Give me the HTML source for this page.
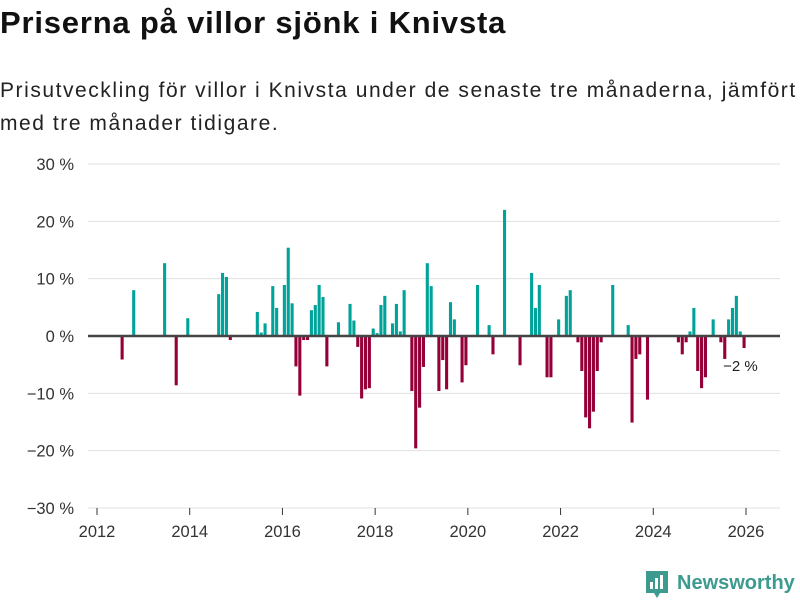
<!DOCTYPE html>
<html><head><meta charset="utf-8"><style>
body{margin:0;width:800px;height:600px;background:#fff;font-family:"Liberation Sans",sans-serif;color:#111;overflow:hidden;position:relative}
h1{position:absolute;left:0;top:5px;margin:0;font-size:31px;font-weight:bold;letter-spacing:0.8px;white-space:nowrap}
p{position:absolute;left:0;top:74px;margin:0;font-size:21px;line-height:33px;width:800px;color:#222;letter-spacing:1.55px;white-space:nowrap}
svg{position:absolute;left:0;top:0}
</style></head><body>
<h1>Priserna på villor sjönk i Knivsta</h1>
<p>Prisutveckling för villor i Knivsta under de senaste tre månaderna, jämfört<br>med tre månader tidigare.</p>
<svg id="chart" width="800" height="600"></svg>
<script>
// month index counted from Jan 2012
const months=[6,9,17,20,23,31,32,33,34,41,42,43,45,46,48,49,50,51,52,53,54,55,56,57,58,59,62,65,66,67,68,69,70,71,72,73,74,76,77,78,79,81,82,83,84,85,86,88,89,90,91,92,94,95,98,101,102,105,109,112,113,114,116,117,119,121,122,124,125,126,127,128,129,130,133,137,138,139,140,142,150,151,152,153,154,155,156,157,159,161,162,163,164,165,166,167];
const values=[-4.1,8.0,12.7,-8.6,3.1,7.3,11.0,10.3,-0.7,4.2,0.6,2.2,8.7,4.9,8.9,15.4,5.7,-5.3,-10.4,-0.7,-0.7,4.5,5.4,8.9,6.8,-5.3,2.4,5.6,2.7,-1.9,-10.9,-9.3,-9.1,1.3,0.5,5.4,7.0,2.2,5.6,0.8,8.0,-9.6,-19.6,-12.5,-5.4,12.7,8.7,-9.6,-4.2,-9.3,5.9,2.9,-8.1,-5.1,8.9,1.9,-3.2,22.0,-5.1,11.0,4.9,8.9,-7.2,-7.2,2.9,7.0,8.0,-1.1,-6.1,-14.2,-16.1,-13.2,-6.1,-1.1,8.9,1.9,-15.1,-4.0,-3.2,-11.1,-1.1,-3.2,-1.1,0.8,4.9,-6.1,-9.1,-7.2,2.9,-1.1,-4.0,2.9,4.9,7.0,0.8,-2.1];
const yTicks=[30,20,10,0,-10,-20,-30];
const xYears=[2012,2014,2016,2018,2020,2022,2024,2026];
const lastLabel="−2 %";
const svg=document.getElementById('chart');const NS='http://www.w3.org/2000/svg';
const x=m=>97+m*3.863; const y=v=>336-v*5.733;
function mk(t,a){const e=document.createElementNS(NS,t);for(const k in a)e.setAttribute(k,a[k]);svg.appendChild(e);return e;}
yTicks.forEach(t=>{
 const g=mk('line',{x1:88,x2:780,y1:y(t),y2:y(t),stroke:'#e0e0e0','stroke-width':1});
 
 
 const l=mk('text',{x:74,y:y(t)+6,'text-anchor':'end','font-size':16.5,fill:'#333'});
 l.textContent=(t<0?'−'+(-t):t)+' %';
 
 
});
xYears.forEach(yr=>{
 const xx=x((yr-2012)*12);
 const t=mk('line',{x1:xx,x2:xx,y1:508,y2:515,stroke:'#333','stroke-width':1});
 
 
 const l=mk('text',{x:xx,y:537,'text-anchor':'middle','font-size':16.5,fill:'#333'});
 l.textContent=yr;
 
 
});
months.forEach((m,i)=>{
 const v=values[i];
 const r=mk('rect',{x:x(m)+0.4,width:3.1,y:Math.min(y(v),y(0)),height:Math.abs(y(v)-y(0)),fill:v>=0?'#00a39a':'#960039'});
 
 
});
const z=mk('line',{x1:88,x2:780,y1:y(0),y2:y(0),stroke:'#444','stroke-width':2.5});


const lm=months[months.length-1];
const lb=mk('text',{x:x(lm)-19,y:y(values[values.length-1])+23,'font-size':15,fill:'#222'});
lb.textContent=lastLabel;


</script>
<svg width="800" height="600" style="position:absolute;left:0;top:0">
<path d="M646 571 h22 v22 h-8 l-3 5 l-3 -5 h-8 z" fill="#3d9a8f"/>
<rect x="650" y="582" width="3" height="7" fill="#fff"/><rect x="655" y="578" width="3" height="11" fill="#fff"/><rect x="660" y="575" width="3" height="14" fill="#fff"/>
<text x="677" y="589" font-size="20" font-weight="bold" fill="#3d9a8f" font-family="Liberation Sans,sans-serif">Newsworthy</text>
</svg>
</body></html>
